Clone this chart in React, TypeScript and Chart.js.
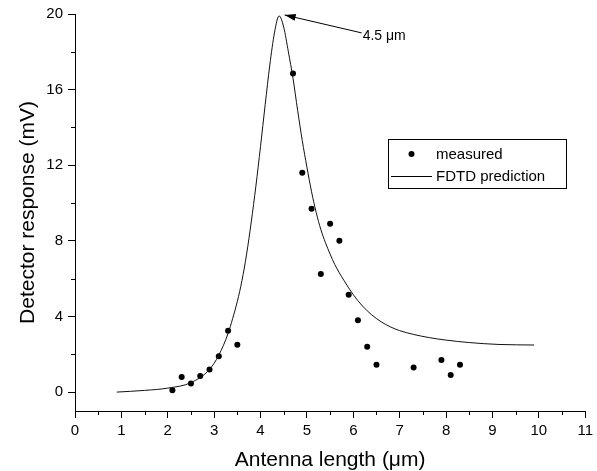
import React, { useEffect, useRef } from "react";
import { Chart, registerables } from "chart.js";

Chart.register(...registerables);

// Measured detector response
const measuredX = [2.1, 2.3, 2.5, 2.7, 2.9, 3.1, 3.3, 3.5, 4.7, 4.9, 5.1, 5.3, 5.5, 5.7, 5.9, 6.1, 6.3, 6.5, 7.3, 7.9, 8.1, 8.3];
const measuredY = [0.1, 0.8, 0.45, 0.85, 1.2, 1.9, 3.25, 2.5, 16.85, 11.6, 9.7, 6.25, 8.9, 8.0, 5.15, 3.8, 2.4, 1.45, 1.3, 1.7, 0.9, 1.45];

// FDTD prediction curve
const fdtdX = [0.9, 1.5, 2.0, 2.5, 2.9, 3.1, 3.3, 3.4, 3.5, 3.6, 3.7, 3.8, 3.9, 4.0, 4.1, 4.2, 4.3, 4.4, 4.5, 4.6, 4.7, 4.8, 4.9, 5.0, 5.1, 5.2, 5.3, 5.4, 5.5, 5.6, 5.8, 6.0, 6.2, 6.4, 6.6, 6.8, 7.0, 7.3, 7.64, 8.0, 8.5, 9.14, 9.9];
const fdtdY = [0, 0.09, 0.21, 0.5, 1.2, 1.95, 3.1, 3.9, 4.8, 5.9, 7.3, 9.0, 10.9, 13.0, 15.2, 17.3, 19.0, 19.9, 19.3, 18.0, 16.6, 14.9, 13.3, 11.9, 10.6, 9.5, 8.6, 7.9, 7.3, 6.75, 5.9, 5.15, 4.55, 4.08, 3.72, 3.45, 3.25, 3.05, 2.88, 2.75, 2.62, 2.52, 2.49];

const xTicks = [0, 1, 2, 3, 4, 5, 6, 7, 8, 9, 10, 11];
const xMinorTicks = [0.5, 1.5, 2.5, 3.5, 4.5, 5.5, 6.5, 7.5, 8.5, 9.5, 10.5];
const yTicks = [0, 4, 8, 12, 16, 20];
const yMinorTicks = [2, 6, 10, 14, 18];

const xTitle = "Antenna length (\u03bcm)";
const yTitle = "Detector response (mV)";
const legendLabels = ["measured", "FDTD prediction"];
const annotationText = "4.5 \u03bcm";
const arrowHead = { x: 4.52, y: 19.95 };
const arrowTail = { x: 6.18, y: 19.0 };

const FONT = "'Liberation Sans', Arial, Helvetica, sans-serif";

const extrasPlugin = {
  id: "extras",
  afterDraw(chart: any) {
    const ctx = chart.ctx as CanvasRenderingContext2D;
    const xs = chart.scales.x;
    const ys = chart.scales.y;
    const area = chart.chartArea;
    ctx.save();
    ctx.strokeStyle = "#000";
    ctx.fillStyle = "#000";
    ctx.lineWidth = 1;

    // minor ticks
    ctx.beginPath();
    xMinorTicks.forEach((v) => {
      const px = Math.round(xs.getPixelForValue(v)) + 0.5;
      ctx.moveTo(px, area.bottom);
      ctx.lineTo(px, area.bottom + 4);
    });
    yMinorTicks.forEach((v) => {
      const py = Math.round(ys.getPixelForValue(v)) + 0.5;
      ctx.moveTo(area.left, py);
      ctx.lineTo(area.left - 4, py);
    });
    ctx.stroke();

    // axis titles
    ctx.font = `21px ${FONT}`;
    ctx.textAlign = "center";
    ctx.textBaseline = "middle";
    ctx.fillText(xTitle, (area.left + area.right) / 2, 460);
    ctx.save();
    ctx.translate(28, (area.top + area.bottom) / 2);
    ctx.rotate(-Math.PI / 2);
    ctx.fillText(yTitle, 0, 0);
    ctx.restore();

    // legend
    const lx = 388.5, ly = 139.5, lw = 178, lh = 49;
    ctx.strokeRect(lx, ly, lw, lh);
    ctx.beginPath();
    ctx.arc(411.5, 154, 3, 0, Math.PI * 2);
    ctx.fill();
    ctx.beginPath();
    ctx.moveTo(391, 176.5);
    ctx.lineTo(432, 176.5);
    ctx.stroke();
    ctx.font = `15px ${FONT}`;
    ctx.textAlign = "left";
    ctx.fillText(legendLabels[0], 436, 155);
    ctx.fillText(legendLabels[1], 436, 177);

    // annotation arrow
    const hx = xs.getPixelForValue(arrowHead.x);
    const hy = ys.getPixelForValue(arrowHead.y);
    const tx = xs.getPixelForValue(arrowTail.x);
    const ty = ys.getPixelForValue(arrowTail.y);
    ctx.beginPath();
    ctx.moveTo(tx, ty);
    ctx.lineTo(hx, hy);
    ctx.stroke();
    const ang = Math.atan2(hy - ty, hx - tx);
    const len = 11, wid = 3.5;
    ctx.beginPath();
    ctx.moveTo(hx, hy);
    ctx.lineTo(hx - len * Math.cos(ang) + wid * Math.sin(ang), hy - len * Math.sin(ang) - wid * Math.cos(ang));
    ctx.lineTo(hx - len * Math.cos(ang) - wid * Math.sin(ang), hy - len * Math.sin(ang) + wid * Math.cos(ang));
    ctx.closePath();
    ctx.fill();
    ctx.font = `14px ${FONT}`;
    ctx.textAlign = "left";
    ctx.textBaseline = "middle";
    ctx.fillText(annotationText, tx + 1, ty + 3);

    ctx.restore();
  },
};

export default function App() {
  const ref = useRef<HTMLCanvasElement | null>(null);
  useEffect(() => {
    if (!ref.current) return;
    const chart = new Chart(ref.current, {
      type: "scatter",
      data: {
        datasets: [
          {
            type: "line",
            label: legendLabels[1],
            data: fdtdX.map((x, i) => ({ x, y: fdtdY[i] })),
            borderColor: "#111",
            borderWidth: 1,
            pointRadius: 0,
            cubicInterpolationMode: "monotone",
            fill: false,
          } as any,
          {
            type: "scatter",
            label: legendLabels[0],
            data: measuredX.map((x, i) => ({ x, y: measuredY[i] })),
            backgroundColor: "#000",
            borderColor: "#000",
            pointRadius: 3,
            borderWidth: 0,
          },
        ],
      },
      options: {
        animation: false,
        responsive: false,
        layout: { padding: { left: 0, top: 13, right: 10, bottom: 0 } },
        plugins: { legend: { display: false }, tooltip: { enabled: false } },
        scales: {
          x: {
            type: "linear",
            min: 0,
            max: 11,
            afterBuildTicks: (s: any) => {
              s.ticks = xTicks.map((v) => ({ value: v }));
            },
            afterFit: (s: any) => {
              s.height = 60;
            },
            grid: { drawOnChartArea: false, drawTicks: true, tickLength: 7, tickColor: "#000", color: "#000" },
            border: { display: true, color: "#000", width: 1 },
            ticks: { color: "#000", font: { family: FONT, size: 15 }, padding: 4, maxRotation: 0, autoSkip: false },
          },
          y: {
            type: "linear",
            min: -1,
            max: 20,
            afterBuildTicks: (s: any) => {
              s.ticks = yTicks.map((v) => ({ value: v }));
            },
            afterFit: (s: any) => {
              s.width = 75;
            },
            grid: { drawOnChartArea: false, drawTicks: true, tickLength: 7, tickColor: "#000", color: "#000" },
            border: { display: true, color: "#000", width: 1 },
            ticks: { color: "#000", font: { family: FONT, size: 15 }, padding: 5, autoSkip: false },
          },
        },
      },
      plugins: [extrasPlugin],
    });
    return () => chart.destroy();
  }, []);
  return (
    <div style={{ position: "absolute", left: 0, top: 0, width: 597, height: 471, background: "#fff" }}>
      <canvas ref={ref} width={597} height={471} style={{ display: "block" }} />
    </div>
  );
}
